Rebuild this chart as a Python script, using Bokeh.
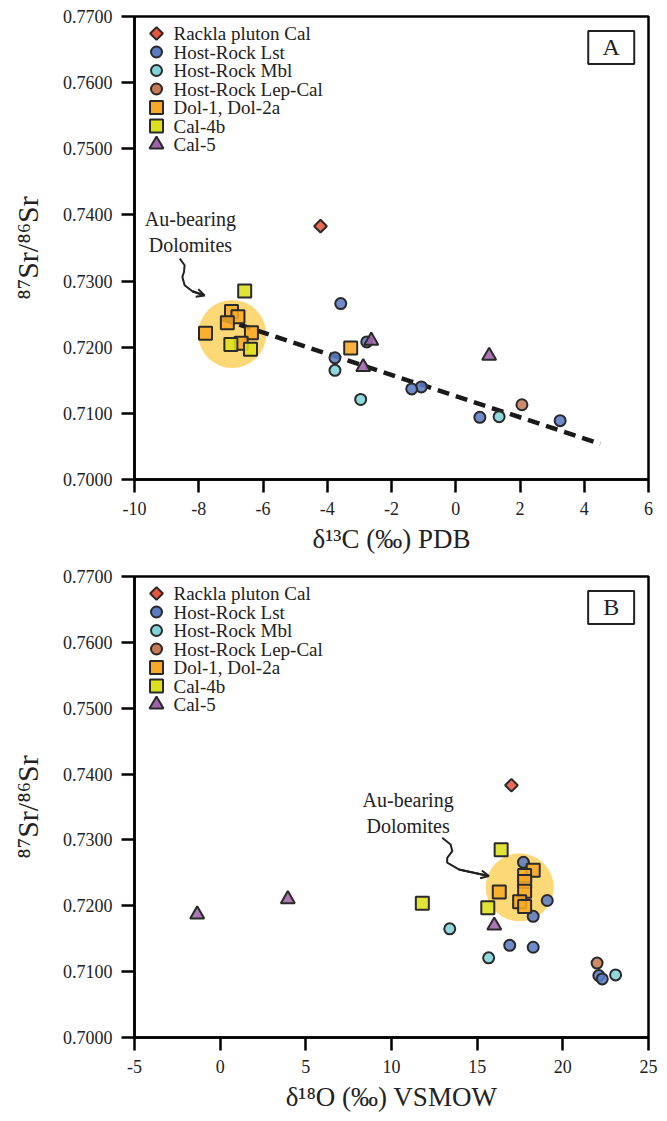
import math
from bokeh.plotting import figure
from bokeh.models import Range1d, FixedTicker, PrintfTickFormatter, Arrow, OpenHead
from bokeh.layouts import column
from bokeh.embed import file_html
from bokeh.resources import INLINE
from bokeh.core.properties import value

# ---------------- data ----------------
group_labels = ["Rackla pluton Cal", "Host-Rock Lst", "Host-Rock Mbl", "Host-Rock Lep-Cal",
                "Dol-1, Dol-2a", "Cal-4b", "Cal-5"]

rackla_d13c = [-4.21]
rackla_d18o = [17.0]
rackla_sr = [0.7383]

lst_d13c = [-3.58, -2.77, -3.76, -1.07, -1.37, 0.75, 3.25]
lst_d18o = [17.7, 19.09, 18.27, 16.9, 18.27, 22.1, 22.3]
lst_sr = [0.7266, 0.7208, 0.7184, 0.7140, 0.7137, 0.7094, 0.7089]

mbl_d13c = [-3.76, -2.96, 1.35]
mbl_d18o = [13.4, 15.67, 23.08]
mbl_sr = [0.7165, 0.7121, 0.7095]

lep_d13c = [2.06]
lep_d18o = [22.0]
lep_sr = [0.7113]

dol_d13c = [-6.98, -6.78, -7.11, -6.36, -7.79, -6.68, -3.27]
dol_d18o = [18.27, 17.77, 17.77, 17.77, 16.29, 17.48, 17.77]
dol_sr = [0.7254, 0.7246, 0.7237, 0.7222, 0.7221, 0.7206, 0.7199]

cal4b_d13c = [-6.57, -7.0, -6.39]
cal4b_d18o = [16.4, 11.8, 15.62]
cal4b_sr = [0.7285, 0.7204, 0.7197]

cal5_d13c = [-2.63, -2.88, 1.04]
cal5_d18o = [3.95, 16.0, -1.34]
cal5_sr = [0.7210, 0.7170, 0.7187]

# trend line (panel A)
trend_d13c = [-7.3, 4.5]
trend_sr = [0.7243, 0.7054]

# highlighted Au-bearing dolomite field centres
hl_a = ([-6.96], [0.7220])
hl_b = ([17.48], [0.7228])

sr_ticks = [0.70, 0.71, 0.72, 0.73, 0.74, 0.75, 0.76, 0.77]
d13c_ticks = [-10, -8, -6, -4, -2, 0, 2, 4, 6]
d18o_ticks = [-5, 0, 5, 10, 15, 20, 25]

# annotation anchors
au_a = ([-8.26], [0.7374])
au_b = ([10.97], [0.7341])
arrow_a_x = [-8.59, -8.44, -8.46, -8.51, -8.44, -8.20, -7.82]
arrow_a_y = [0.73340, 0.73239, 0.73138, 0.73062, 0.72937, 0.72846, 0.72781]
arrow_b_x = [12.96, 13.45, 13.55, 13.25, 13.25, 13.93, 15.68]
arrow_b_y = [0.73032, 0.72931, 0.72829, 0.72729, 0.72654, 0.72552, 0.72451]
letter_a = ([4.84], [0.76532])
letter_b = ([22.82], [0.76531])

# ---------------- style ----------------
SERIF = "Liberation Serif"
OUT = "#2a2a2a"
TXT = "#222222"
FRAME_W = 514
styles = [
    dict(marker="square", angle=math.pi / 4, size=9, color="#E8553A"),
    dict(marker="circle", angle=0, size=11, color="#5B7BC4"),
    dict(marker="circle", angle=0, size=11, color="#7FD3D8"),
    dict(marker="circle", angle=0, size=11, color="#C77A55"),
    dict(marker="square", angle=0, size=13, color="#F9A825"),
    dict(marker="square", angle=0, size=13, color="#DDE01A"),
    dict(marker="triangle", angle=0, size=14, color="#A062A8"),
]


def make_panel(xs_list, xr, xticks, xlabel, frame_h, bottom, hl, au,
               arr_x, arr_y, letter, letter_txt, trend=None):
    p = figure(frame_width=FRAME_W, frame_height=frame_h, x_range=Range1d(*xr), y_range=Range1d(0.70, 0.77),
               output_backend="svg", toolbar_location=None, min_border_left=134, min_border_right=19,
               min_border_top=16, min_border_bottom=bottom)
    p.xgrid.visible = False
    p.ygrid.visible = False
    p.outline_line_color = "black"
    p.outline_line_width = 2.5
    p.outline_line_alpha = 1

    for ax in (p.xaxis[0], p.yaxis[0]):
        ax.axis_line_width = 2.5
        ax.major_tick_line_width = 2.5
        ax.major_tick_out = 13
        ax.major_tick_in = 0
        ax.minor_tick_line_color = None
        ax.major_label_text_font = SERIF
        ax.major_label_text_font_size = "18px"
        ax.major_label_text_color = TXT
        ax.major_label_standoff = 9
        ax.axis_label_text_font = SERIF
        ax.axis_label_text_font_style = "normal"
        ax.axis_label_text_color = TXT
    p.xaxis.ticker = FixedTicker(ticks=xticks)
    p.xaxis.formatter = PrintfTickFormatter(format="%d")
    p.yaxis.ticker = FixedTicker(ticks=sr_ticks)
    p.yaxis.formatter = PrintfTickFormatter(format="%.4f")
    p.xaxis.axis_label = xlabel
    p.xaxis.axis_label_text_font_size = "27px"
    p.xaxis.axis_label_standoff = 6
    p.yaxis.axis_label = "\u2078\u2077Sr/\u2078\u2076Sr"
    p.yaxis.axis_label_text_font_size = "30px"
    p.yaxis.axis_label_standoff = 16

    # highlight field
    p.scatter(hl[0], hl[1], marker="circle", size=68, fill_color="#FDD877", line_color=None)
    if trend is not None:
        p.line(trend[0], trend[1], line_width=4.5, line_dash="12 7", line_color="#1a1a1a")

    for (gx, gy), st in zip(xs_list, styles):
        p.scatter(gx, gy, marker=st["marker"], angle=st["angle"], size=st["size"],
                  fill_color=st["color"], fill_alpha=0.88, line_color=OUT, line_width=2)

    # legend (drawn as glyph + text rows in the upper-left corner of the frame)
    x0, x1 = xr
    dx = (x1 - x0) / FRAME_W
    dy = 0.07 / frame_h
    for i, (lab, st) in enumerate(zip(group_labels, styles)):
        off = 17 + i * 18.5
        yy = 0.77 - off * dy
        p.scatter([x0 + 22 * dx], [yy], marker=st["marker"], angle=st["angle"], size=st["size"],
                  fill_color=st["color"], line_color=OUT, line_width=2)
        p.text([x0 + 39 * dx], [yy], text=[lab], text_font=value(SERIF), text_font_size="19px",
               text_align="left", text_baseline="middle", text_color=TXT)

    # Au-bearing annotation
    p.text(au[0], au[1], text=["Au-bearing\nDolomites"], text_font=value(SERIF), text_font_size="20px",
           text_align="center", text_baseline="middle", text_color=TXT, text_line_height=1.15)
    p.line(arr_x, arr_y, line_width=2, line_color=TXT)
    p.add_layout(Arrow(end=OpenHead(size=8, line_width=2, line_color=TXT),
                       x_start=arr_x[-2], y_start=arr_y[-2], x_end=arr_x[-1], y_end=arr_y[-1],
                       line_width=2, line_color=TXT))

    # panel letter
    p.rect(letter[0], letter[1], width=46, height=33, width_units="screen", height_units="screen",
           fill_color="white", line_color=TXT, line_width=2)
    p.text(letter[0], letter[1], text=[letter_txt], text_font=value(SERIF), text_font_size="24px",
           text_align="center", text_baseline="middle", text_color=TXT)
    return p


pa = make_panel([(rackla_d13c, rackla_sr), (lst_d13c, lst_sr), (mbl_d13c, mbl_sr), (lep_d13c, lep_sr),
                 (dol_d13c, dol_sr), (cal4b_d13c, cal4b_sr), (cal5_d13c, cal5_sr)],
                (-10, 6), d13c_ticks, "\u03b4\u00b9\u00b3C (\u2030) PDB", 463, 81, hl_a, au_a,
                arrow_a_x, arrow_a_y, letter_a, "A", trend=(trend_d13c, trend_sr))
pb = make_panel([(rackla_d18o, rackla_sr), (lst_d18o, lst_sr), (mbl_d18o, mbl_sr), (lep_d18o, lep_sr),
                 (dol_d18o, dol_sr), (cal4b_d18o, cal4b_sr), (cal5_d18o, cal5_sr)],
                (-5, 25), d18o_ticks, "\u03b4\u00b9\u2078O (\u2030) VSMOW", 461, 84, hl_b, au_b,
                arrow_b_x, arrow_b_y, letter_b, "B")

layout = column(pa, pb, spacing=0)
open("out.html", "w").write(file_html(layout, INLINE))
